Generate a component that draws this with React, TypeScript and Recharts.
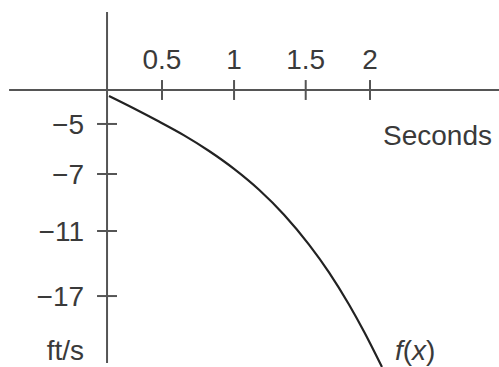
// App.tsx
import React from "react";
import { LineChart, Line, XAxis, YAxis, ReferenceLine, ReferenceDot } from "recharts";

// drawn scale of the sketch (axes are not evenly spaced)
const xTickAt = [0.418, 0.966, 1.511, 2.0];
const xTickLabels = ["0.5", "1", "1.5", "2"];
const yTickAt = [-2.83, -7.0, -11.75, -17.17];
const yTickLabels = ["\u22125", "\u22127", "\u221211", "\u221217"];

// curve f(x)
const timeS = [0.015, 0.198, 0.395, 0.586, 0.776, 0.966, 1.156, 1.346, 1.536, 1.688, 1.84, 1.954, 2.091];
const speed = [-0.5, -1.5, -2.63, -3.78, -5.08, -6.57, -8.31, -10.39, -12.88, -15.19, -17.87, -20.12, -23.08];

const data = timeS.map((t, i) => ({ t, v: speed[i] }));

const W = 499;
const H = 367;
const FONT = "'Liberation Sans', Arial, Helvetica, sans-serif";
const TXT = "#3a3a3a";
const AX = "#555";
const FS = 28;

const xTickHalf = 0.83; // tick half-length in y units
const yTickHalf = 0.076; // tick half-length in x units

export default function App() {
  const textAt = (value: React.ReactNode, anchor: "start" | "end" | "middle") =>
    ({ viewBox }: any) => (
      <text x={viewBox.x} y={viewBox.y} textAnchor={anchor} fontSize={FS} fill={TXT} fontFamily={FONT}>
        {value}
      </text>
    );

  return (
    <div style={{ position: "absolute", left: 0, top: 0, width: W, height: H, background: "#fff" }}>
      <LineChart width={W} height={H} data={data} margin={{ top: 0, right: 0, bottom: 0, left: 0 }} style={{ fontFamily: FONT }}>
        <XAxis type="number" dataKey="t" domain={[-0.814, 2.981]} hide allowDataOverflow />
        <YAxis type="number" domain={[-23.083, 7.5]} hide allowDataOverflow />

        {/* axes */}
        <ReferenceLine segment={[{ x: -0.745, y: 0 }, { x: 2.981, y: 0 }]} stroke={AX} strokeWidth={2} />
        <ReferenceLine segment={[{ x: 0, y: 6.5 }, { x: 0, y: -22.75 }]} stroke={AX} strokeWidth={2} />

        {xTickAt.map((x, i) => (
          <ReferenceLine
            key={`xt-${i}`}
            segment={[{ x, y: xTickHalf }, { x, y: -xTickHalf }]}
            stroke={AX}
            strokeWidth={2}
            label={{ value: xTickLabels[i], position: "top", offset: 11, fontSize: FS, fill: TXT, fontFamily: FONT }}
          />
        ))}
        {yTickAt.map((y, i) => (
          <ReferenceLine
            key={`yt-${i}`}
            segment={[{ x: -yTickHalf, y }, { x: yTickHalf, y }]}
            stroke={AX}
            strokeWidth={2}
            label={{ value: yTickLabels[i], position: "left", offset: 13, fontSize: FS, fill: TXT, fontFamily: FONT }}
          />
        ))}

        <Line
          type="monotone"
          dataKey="v"
          stroke="#222"
          strokeWidth={2.2}
          dot={false}
          activeDot={false}
          isAnimationActive={false}
        />

        {/* axis captions */}
        <ReferenceDot x={2.928} y={-4.58} r={0} fill="none" stroke="none" label={{ content: textAt("Seconds", "end") }} />
        <ReferenceDot x={-0.175} y={-22.5} r={0} fill="none" stroke="none" label={{ content: textAt("ft/s", "end") }} />
        <ReferenceDot
          x={2.19}
          y={-22.5}
          r={0}
          fill="none"
          stroke="none"
          label={{
            content: textAt(
              <>
                <tspan fontStyle="italic">f</tspan>(<tspan fontStyle="italic">x</tspan>)
              </>,
              "start"
            ),
          }}
        />
      </LineChart>
    </div>
  );
}
